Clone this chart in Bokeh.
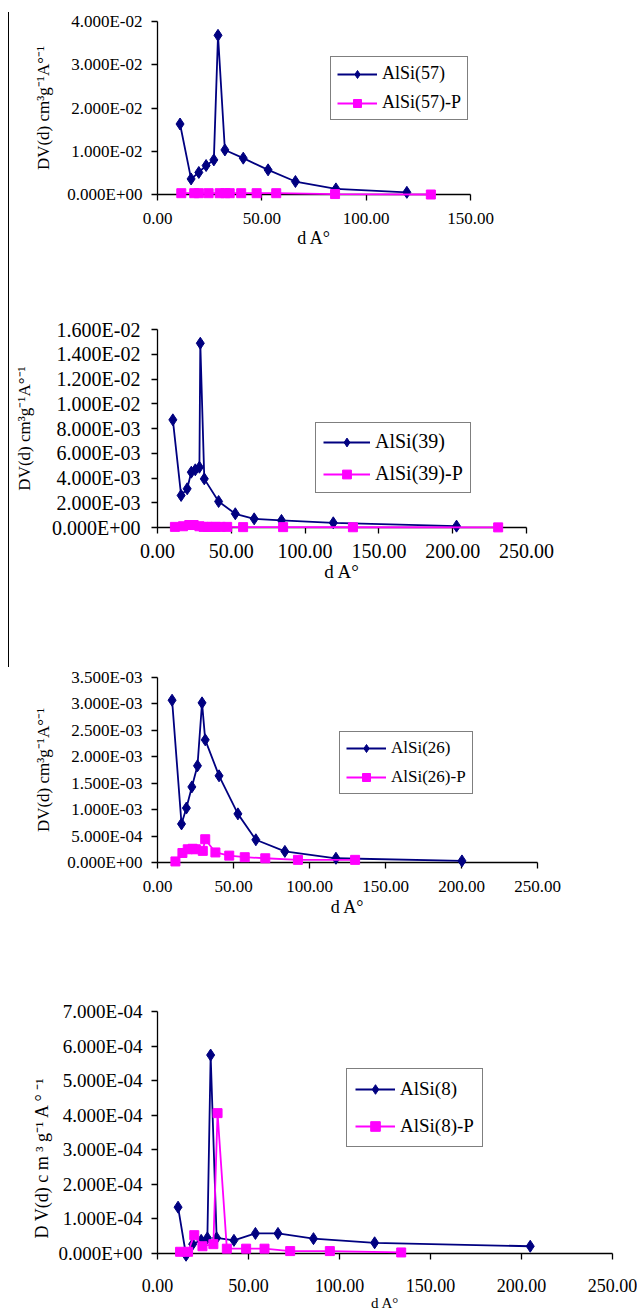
import numpy as np
from bokeh.plotting import figure
from bokeh.models import Range1d, FixedTicker, CustomJSTickFormatter, Legend, LegendItem, Div
from bokeh.layouts import column, row
from bokeh.embed import file_html
from bokeh.resources import INLINE

NAVY = "#000080"
PINK = "#FF00FF"
FONT = "Liberation Serif"

# ---------------- data ----------------
# Panel 1 : AlSi(57)
p1_x_ticks = [0, 50, 100, 150]
p1_x_labels = ["0.00", "50.00", "100.00", "150.00"]
p1_y_ticks = [0.0, 0.01, 0.02, 0.03, 0.04]
p1_y_labels = ["0.000E+00", "1.000E-02", "2.000E-02", "3.000E-02", "4.000E-02"]
s57_d = [10.8, 16.1, 19.8, 23.3, 27.0, 29.0, 32.3, 41.1, 53.0, 66.1, 85.5, 119.5]
s57_v = [0.0163, 0.0036, 0.0051, 0.0067, 0.0080, 0.0368, 0.0103, 0.0084, 0.0057, 0.0030, 0.0013, 0.0005]
s57p_d = [11.4, 17.6, 19.8, 24.5, 29.8, 32.5, 34.6, 40.1, 47.5, 56.9, 85.1, 131.0]
s57p_v = [0.0003, 0.0003, 0.0003, 0.0003, 0.0003, 0.0003, 0.0003, 0.0003, 0.0003, 0.0003, 0.0001, 0.0000]

# Panel 2 : AlSi(39)
p2_x_ticks = [0, 50, 100, 150, 200, 250]
p2_x_labels = ["0.00", "50.00", "100.00", "150.00", "200.00", "250.00"]
p2_y_ticks = [0.0, 0.002, 0.004, 0.006, 0.008, 0.010, 0.012, 0.014, 0.016]
p2_y_labels = ["0.000E+00", "2.000E-03", "4.000E-03", "6.000E-03", "8.000E-03",
               "1.000E-02", "1.200E-02", "1.400E-02", "1.600E-02"]
s39_d = [10.4, 16.0, 20.1, 22.9, 25.6, 28.4, 29.0, 31.7, 41.4, 52.7, 65.5, 84.0, 119.1, 202.6]
s39_v = [0.0087, 0.00259, 0.00313, 0.00447, 0.00466, 0.00487, 0.01489, 0.00393, 0.00210,
         0.00111, 0.00070, 0.00057, 0.00038, 0.00011]
s39p_d = [11.8, 17.3, 21.5, 24.5, 28.4, 31.2, 34.0, 36.7, 39.4, 42.8, 47.2, 58.0, 85.1, 132.4, 230.8]
s39p_v = [0.00005, 0.0001, 0.0002, 0.0002, 0.0001, 0.00005, 0.00005, 0.00005, 0.00005, 0.00005,
          0.00005, 0.00003, 0.00003, 0.00002, 0.00001]

# Panel 3 : AlSi(26)
p3_x_ticks = [0, 50, 100, 150, 200, 250]
p3_x_labels = ["0.00", "50.00", "100.00", "150.00", "200.00", "250.00"]
p3_y_ticks = [0.0, 0.0005, 0.001, 0.0015, 0.002, 0.0025, 0.003, 0.0035]
p3_y_labels = ["0.000E+00", "5.000E-04", "1.000E-03", "1.500E-03", "2.000E-03",
               "2.500E-03", "3.000E-03", "3.500E-03"]
s26_d = [9.6, 15.8, 19.0, 22.6, 26.3, 29.3, 31.4, 40.5, 52.9, 64.7, 83.8, 117.4, 200.3]
s26_v = [0.00307, 0.00073, 0.00103, 0.00143, 0.00183, 0.00302, 0.00232, 0.00164, 0.00092,
         0.00043, 0.00021, 0.00008, 0.00003]
s26p_d = [11.8, 16.4, 19.9, 23.1, 25.2, 29.8, 31.4, 38.1, 47.2, 57.4, 70.9, 92.4, 130.0]
s26p_v = [0.00002, 0.00018, 0.00025, 0.00026, 0.00025, 0.00022, 0.00044, 0.00019, 0.00013,
          0.00010, 0.00008, 0.00005, 0.00005]

# Panel 4 : AlSi(8)
p4_x_ticks = [0, 50, 100, 150, 200, 250]
p4_x_labels = ["0.00", "50.00", "100.00", "150.00", "200.00", "250.00"]
p4_y_ticks = [0.0, 0.0001, 0.0002, 0.0003, 0.0004, 0.0005, 0.0006, 0.0007]
p4_y_labels = ["0.000E+00", "1.000E-04", "2.000E-04", "3.000E-04", "4.000E-04",
               "5.000E-04", "6.000E-04", "7.000E-04"]
s8_d = [11.3, 15.7, 19.3, 24.0, 27.4, 29.2, 32.5, 42.0, 53.8, 66.2, 85.7, 119.3, 204.8]
s8_v = [0.000134, -0.000005, 0.000027, 0.000038, 0.000045, 0.000574, 0.000045, 0.000038,
        0.000058, 0.000058, 0.000043, 0.000031, 0.000021]
s8p_d = [12.4, 16.8, 20.2, 24.7, 30.7, 33.0, 38.1, 48.7, 58.8, 72.9, 94.7, 133.9]
s8p_v = [0.000005, 0.000005, 0.000053, 0.000021, 0.000027, 0.000406, 0.000014, 0.000014,
         0.000014, 0.000007, 0.000007, 0.000003]

names = ["AlSi(57)", "AlSi(57)-P", "AlSi(39)", "AlSi(39)-P", "AlSi(26)", "AlSi(26)-P", "AlSi(8)", "AlSi(8)-P"]

FMT_CODE = """
let best = 0; let bd = Infinity;
for (let i = 0; i < tvals.length; i++) {
  const d = Math.abs(tvals[i] - tick);
  if (d < bd) { bd = d; best = i; }
}
return tlabels[best];
"""


def make_panel(xt, xl, yt, yl, d1, v1, d2, v2, n1, n2, ytitle, g):
    p = figure(frame_width=g["fw"], frame_height=g["fh"],
               x_range=Range1d(xt[0], xt[-1]), y_range=Range1d(yt[0], yt[-1]),
               min_border_left=g["ml"], min_border_right=625 - g["ml"] - g["fw"],
               min_border_top=g["mt"], min_border_bottom=g["mb"],
               toolbar_location=None, output_backend="svg",
               background_fill_color="white", border_fill_color="white",
               outline_line_color=None)
    p.grid.visible = False
    xa = p.xaxis[0]
    ya = p.yaxis[0]
    for ax in (xa, ya):
        ax.axis_line_color = "black"
        ax.axis_line_width = 1.3
        ax.major_tick_line_color = "black"
        ax.major_tick_line_width = 1.3
        ax.major_tick_out = 6
        ax.major_tick_in = 0
        ax.minor_tick_line_color = None
        ax.major_label_text_font = FONT
        ax.major_label_text_font_style = "normal"
        ax.major_label_text_color = "black"
        ax.axis_label_text_font = FONT
        ax.axis_label_text_font_style = "normal"
        ax.axis_label_text_color = "black"
    xa.ticker = FixedTicker(ticks=xt)
    xa.formatter = CustomJSTickFormatter(args=dict(tvals=xt, tlabels=xl), code=FMT_CODE)
    ya.ticker = FixedTicker(ticks=yt)
    ya.formatter = CustomJSTickFormatter(args=dict(tvals=yt, tlabels=yl), code=FMT_CODE)
    xa.major_label_text_font_size = f"{g['xfs']}px"
    ya.major_label_text_font_size = f"{g['yfs']}px"
    xa.major_label_standoff = g["xls"]
    ya.major_label_standoff = g["yls"]
    xa.axis_label = "d A\u00b0"
    xa.axis_label_text_font_size = f"{g['xtfs']}px"
    xa.axis_label_standoff = g["xts"]
    ya.axis_label = ytitle
    ya.axis_label_text_font_size = f"{g['ytfs']}px"
    ya.axis_label_standoff = g["yts"]

    l1 = p.line(d1, v1, line_color=NAVY, line_width=1.8, level="overlay")
    m1 = p.scatter(d1, v1, marker="diamond", size=12,
                   fill_color=NAVY, line_color=NAVY, level="overlay")
    l2 = p.line(d2, v2, line_color=PINK, line_width=1.8, level="overlay")
    m2 = p.scatter(d2, v2, marker="square", size=9,
                   fill_color=PINK, line_color=PINK, level="overlay")

    lg = Legend(items=[LegendItem(label=n1, renderers=[l1, m1]),
                       LegendItem(label=n2, renderers=[l2, m2])],
                location=(g["lx"], g["ly"]))
    lg.label_text_font = FONT
    lg.label_text_font_style = "normal"
    lg.label_text_font_size = f"{g['lfs']}px"
    lg.label_text_color = "black"
    lg.border_line_color = "black"
    lg.border_line_width = 1.3
    lg.background_fill_color = "white"
    lg.background_fill_alpha = 1.0
    lg.padding = g["lpad"]
    lg.spacing = g["lsp"]
    lg.glyph_width = g["lgw"]
    lg.glyph_height = g["lgh"]
    lg.label_standoff = 5
    lg.label_width = g["llw"]
    lg.margin = 0
    p.add_layout(lg, "center")
    return p


g1 = dict(fw=313, fh=173, ml=141, mt=21, mb=106, xfs=17, yfs=17, xls=12, yls=9,
          xtfs=18, xts=1, ytfs=17, yts=11,
          lx=173, ly=74, lfs=18, lpad=6, lsp=8, lgw=40, lgh=20, llw=79)
g2 = dict(fw=369, fh=198, ml=142, mt=29, mb=113, xfs=20, yfs=20, xls=10, yls=11,
          xtfs=19, xts=0, ytfs=17, yts=15,
          lx=158, ly=34, lfs=20, lpad=7, lsp=9, lgw=47, lgh=22, llw=88)
g3 = dict(fw=380, fh=185, ml=141, mt=37, mb=98, xfs=17, yfs=17, xls=12, yls=9,
          xtfs=18, xts=2, ytfs=17, yts=11,
          lx=182, ly=68, lfs=17, lpad=6, lsp=9, lgw=40, lgh=20, llw=73)
g4 = dict(fw=455, fh=242, ml=141, mt=51, mb=62, xfs=18, yfs=19, xls=19, yls=9,
          xtfs=15, xts=0, ytfs=18, yts=3,
          lx=189, ly=106, lfs=19, lpad=8, lsp=13, lgw=40, lgh=24, llw=64)

p1 = make_panel(p1_x_ticks, p1_x_labels, p1_y_ticks, p1_y_labels, s57_d, s57_v, s57p_d, s57p_v,
                names[0], names[1], "DV(d) cm\u00b3g\u207b\u00b9A\u00b0\u207b\u00b9", g1)
p2 = make_panel(p2_x_ticks, p2_x_labels, p2_y_ticks, p2_y_labels, s39_d, s39_v, s39p_d, s39p_v,
                names[2], names[3], "DV(d) cm\u00b3g\u207b\u00b9A\u00b0\u207b\u00b9", g2)
p3 = make_panel(p3_x_ticks, p3_x_labels, p3_y_ticks, p3_y_labels, s26_d, s26_v, s26p_d, s26p_v,
                names[4], names[5], "DV(d) cm\u00b3g\u207b\u00b9A\u00b0\u207b\u00b9", g3)
p4 = make_panel(p4_x_ticks, p4_x_labels, p4_y_ticks, p4_y_labels, s8_d, s8_v, s8p_d, s8p_v,
                names[6], names[7],
                "D V(d)  c m \u00b3 g\u207b\u00b9 A \u00b0 \u207b\u00b9" + "\u00a0" * 10, g4)

line_div = Div(text='<div style="position:absolute;left:8px;top:12px;width:1px;height:655px;background:#000;"></div>',
               width=12, height=1315, margin=0)

layout = row(line_div, column(p1, p2, p3, p4, spacing=0), spacing=0)

open("out.html", "w").write(file_html(layout, INLINE))
